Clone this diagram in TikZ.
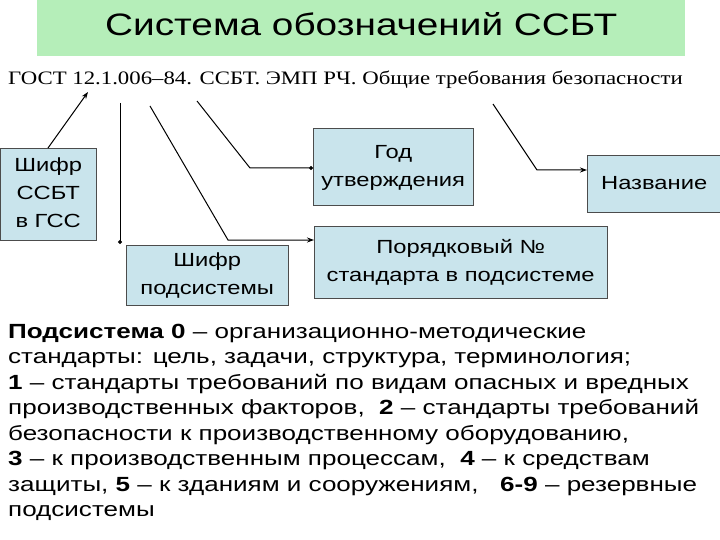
\documentclass[tikz,border=0pt]{standalone}
\usepackage{fontspec}
\usepackage{graphicx}
\setmainfont{Liberation Sans}
\newfontfamily\serifru{Liberation Serif}
\usetikzlibrary{arrows.meta}
\definecolor{boxfill}{HTML}{C9E4EC}
\definecolor{titlefill}{HTML}{B5EEB9}
\newcommand\sxc[1]{\scalebox{1.25}[1]{\begin{tabular}{@{}c@{}}#1\end{tabular}}}
\newcommand\sxl[1]{\scalebox{1.27}[1]{\begin{tabular}{@{}l@{}}#1\end{tabular}}}
\begin{document}
\begin{tikzpicture}[x=1pt,y=-1pt,
  bx/.style={draw=black!70,fill=boxfill,align=center,font=\fontsize{19}{28}\selectfont,inner sep=0pt},
  ln/.style={draw,line width=1pt},
  arr/.style={ln,-{Stealth[length=7pt,width=5pt]}},
  dot/.style={ln,-{Circle[length=4pt]}}]
\useasboundingbox (0,0) rectangle (720,540);
\node[fill=titlefill,minimum width=648,minimum height=56,anchor=north west,inner sep=0pt,font=\fontsize{31}{36}\selectfont] (title) at (37,0) {\sxc{Система обозначений ССБТ}};
\node[anchor=west,inner sep=0pt,font=\serifru\fontsize{19}{22}\selectfont] (gost) at (8,80) {\scalebox{1.2}[1]{ГОСТ 12.1.006–84. ССБТ. ЭМП РЧ. Общие требования безопасности}};
\node[bx,minimum width=96,minimum height=92,anchor=north west] (b1) at (0,148) {\sxc{Шифр\\ССБТ\\в ГСС}};
\node[bx,minimum width=160,minimum height=77,anchor=north west] (b2) at (313,128) {\sxc{Год\\утверждения}};
\node[bx,minimum width=134,minimum height=57,anchor=north west] (b3) at (587,155) {\sxc{Название}};
\node[bx,minimum width=162,minimum height=60,anchor=north west] (b4) at (126,245) {\sxc{Шифр\\подсистемы}};
\node[bx,minimum width=293,minimum height=72,anchor=north west] (b5) at (314,226) {\sxc{Порядковый №\\стандарта в подсистеме}};
\coordinate (c1) at (88,92);
\coordinate (c2) at (120,103);
\coordinate (c3) at (150,106);
\coordinate (c4) at (197,101);
\coordinate (c5) at (493,104);
\draw[arr] (b1.north west |- b1.north) ++(48,0) -- (c1);
\draw[dot] (c2) -- (120,244) coordinate (e2);
\draw[arr] (c3) -- (228,240) -- (b5.west |- 0,240);
\draw[dot] (c4) -- (250,168) -- (b2.west |- 0,168);
\draw[arr] (c5) -- (537,170) -- (b3.west |- 0,170);
\node[anchor=north west,inner sep=0pt,font=\fontsize{20.5}{25.5}\selectfont] (body) at (8,320) {\sxl{%
\textbf{Подсистема 0} – организационно-методические\\
стандарты: цель, задачи, структура, терминология;\\
\textbf{1} – стандарты требований по видам опасных и вредных\\
производственных факторов,\ \ \textbf{2} – стандарты требований\\
безопасности к производственному оборудованию,\\
\textbf{3} – к производственным процессам,\ \ \textbf{4} – к средствам\\
защиты, \textbf{5} – к зданиям и сооружениям,\ \ \ \textbf{6-9} – резервные\\
подсистемы}};
\end{tikzpicture}
\end{document}
